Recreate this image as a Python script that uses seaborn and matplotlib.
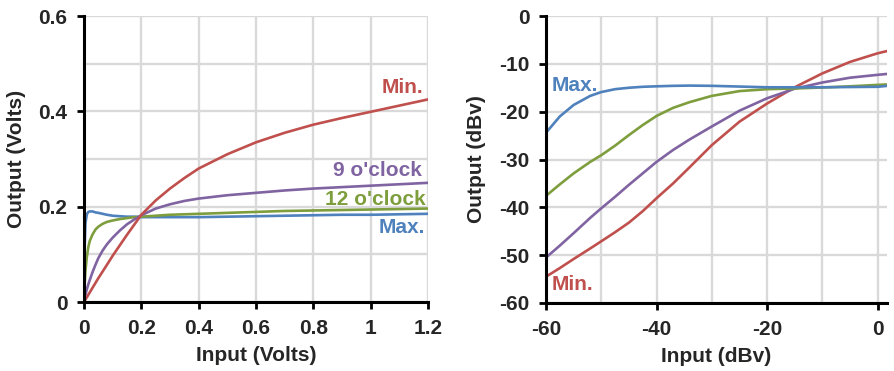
import numpy as np
import pandas as pd
import matplotlib
matplotlib.use("Agg")
import matplotlib.pyplot as plt
import seaborn as sns
from matplotlib.ticker import MultipleLocator

# ─── DATA ────────────────────────────────────────────────────────────────────
# left panel: linear volts
vin = [0, 0.0025, 0.005, 0.01, 0.015, 0.02, 0.03, 0.04, 0.05, 0.065, 0.08, 0.1,
       0.125, 0.15, 0.175, 0.2, 0.25, 0.3, 0.35, 0.4, 0.5, 0.6, 0.7, 0.8, 0.9,
       1.0, 1.1, 1.2]
v_min = [0, 0.0025, 0.005, 0.01, 0.015, 0.02, 0.03, 0.04, 0.05, 0.064, 0.078, 0.097,
         0.119, 0.141, 0.162, 0.183, 0.213, 0.238, 0.260, 0.280, 0.310, 0.335, 0.355,
         0.372, 0.386, 0.399, 0.412, 0.425]
v_9 = [0, 0.008, 0.015, 0.027, 0.037, 0.046, 0.063, 0.078, 0.092, 0.108, 0.121, 0.135,
       0.150, 0.163, 0.173, 0.182, 0.196, 0.205, 0.212, 0.217, 0.224, 0.229, 0.234,
       0.238, 0.241, 0.244, 0.247, 0.250]
v_12 = [0, 0.04, 0.065, 0.095, 0.115, 0.128, 0.142, 0.152, 0.158, 0.164, 0.168, 0.171,
        0.174, 0.176, 0.178, 0.179, 0.181, 0.183, 0.184, 0.185, 0.187, 0.189, 0.191,
        0.192, 0.193, 0.194, 0.195, 0.196]
v_max = [0, 0.12, 0.165, 0.184, 0.189, 0.190, 0.190, 0.188, 0.187, 0.185, 0.183, 0.181,
         0.180, 0.179, 0.179, 0.178, 0.178, 0.178, 0.178, 0.178, 0.179, 0.180, 0.181,
         0.182, 0.183, 0.183, 0.184, 0.185]

# right panel: dBv
din = [-60, -57.5, -55, -52, -50, -47.5, -45, -42.5, -40, -37, -34, -30, -25, -20,
       -15, -10, -5, 0, 1.8]
d_min = [-54.5, -52.7, -50.8, -48.6, -47.1, -45.2, -43.2, -40.8, -38.1, -35.0, -31.6,
         -27.0, -22.1, -18.3, -14.9, -12.0, -9.6, -7.8, -7.3]
d_9 = [-50.5, -48.0, -45.4, -42.2, -40.2, -37.8, -35.3, -32.9, -30.5, -28.0, -25.8,
       -23.1, -19.8, -17.2, -15.2, -13.9, -12.9, -12.3, -12.1]
d_12 = [-37.6, -35.2, -32.9, -30.5, -29.1, -27.1, -24.9, -22.8, -20.9, -19.2, -18.0,
        -16.7, -15.7, -15.3, -15.15, -14.95, -14.7, -14.4, -14.3]
d_max = [-24.4, -21.0, -18.6, -16.7, -15.9, -15.3, -15.0, -14.8, -14.7, -14.6, -14.55,
         -14.6, -14.75, -14.9, -14.9, -14.9, -14.85, -14.8, -14.6]

RED, PURPLE, GREEN, BLUE = "#C0504D", "#8064A2", "#7E9E3E", "#4F81BD"
GRID = "#D9D9D9"

sns.set_style("white")
plt.rcParams["font.family"] = ["Liberation Sans", "DejaVu Sans"]
plt.rcParams["font.weight"] = "bold"
plt.rcParams["axes.unicode_minus"] = False
FS = 15

fig = plt.figure(figsize=(8.95, 3.71), dpi=100)
ax1 = fig.add_axes([84 / 895, 69 / 371, 344 / 895, 286 / 371])
ax2 = fig.add_axes([546 / 895, 68 / 371, 341 / 895, 287 / 371])


def style(ax):
    ax.grid(True, which="both", color=GRID, lw=1.7, zorder=0)
    ax.set_axisbelow(True)
    for s in ["top", "right"]:
        ax.spines[s].set_visible(False)
    for s in ["left", "bottom"]:
        ax.spines[s].set_color("black")
        ax.spines[s].set_linewidth(2.2)
        ax.spines[s].set_zorder(5)
    ax.tick_params(which="major", direction="out", length=5, width=2, color="black",
                   labelsize=FS, left=True, bottom=True)
    ax.tick_params(axis="y", pad=7)
    ax.tick_params(axis="x", pad=7)
    ax.tick_params(which="minor", length=0)
    for lab in ax.get_xticklabels() + ax.get_yticklabels():
        lab.set_fontweight("bold")


# --- left panel --------------------------------------------------------------
for ys, c in [(v_max, BLUE), (v_12, GREEN), (v_9, PURPLE), (v_min, RED)]:
    sns.lineplot(x=vin, y=ys, color=c, lw=1.9, ax=ax1, sort=False, zorder=3)
ax1.set_xlim(0, 1.2)
ax1.set_ylim(0, 0.6)
ax1.yaxis.set_minor_locator(MultipleLocator(0.1))
ax1.set_xticks([0, 0.2, 0.4, 0.6, 0.8, 1.0, 1.2])
ax1.set_xticklabels(["0", "0.2", "0.4", "0.6", "0.8", "1", "1.2"])
ax1.set_yticks([0, 0.2, 0.4, 0.6])
ax1.set_yticklabels(["0", "0.2", "0.4", "0.6"])
ax1.set_xlabel("Input (Volts)", fontsize=FS, fontweight="bold", labelpad=6)
ax1.set_ylabel("Output (Volts)", fontsize=FS, fontweight="bold", labelpad=9)
style(ax1)
ax1.text(1.185, 0.45, "Min.", color=RED, fontsize=FS, fontweight="bold", ha="right", va="center")
ax1.text(1.18, 0.275, "9 o'clock", color=PURPLE, fontsize=FS, fontweight="bold", ha="right", va="center")
ax1.text(1.19, 0.216, "12 o'clock", color=GREEN, fontsize=FS, fontweight="bold", ha="right", va="center")
ax1.text(1.19, 0.156, "Max.", color=BLUE, fontsize=FS, fontweight="bold", ha="right", va="center")

# --- right panel -------------------------------------------------------------
for ys, c in [(d_min, RED), (d_9, PURPLE), (d_12, GREEN), (d_max, BLUE)]:
    sns.lineplot(x=din, y=ys, color=c, lw=1.9, ax=ax2, sort=False, zorder=3)
ax2.set_xlim(-60, 1.7)
ax2.set_ylim(-60, 0)
ax2.set_xticks([-60, -40, -20, 0])
ax2.xaxis.set_minor_locator(MultipleLocator(10))
ax2.yaxis.set_major_locator(MultipleLocator(10))
ax2.set_xlabel("Input (dBv)", fontsize=FS, fontweight="bold", labelpad=6)
ax2.set_ylabel("Output (dBv)", fontsize=FS, fontweight="bold", labelpad=9)
style(ax2)
ax2.text(-59, -14.6, "Max.", color=BLUE, fontsize=FS, fontweight="bold", ha="left", va="center")
ax2.text(-58.9, -56.2, "Min.", color=RED, fontsize=FS, fontweight="bold", ha="left", va="center")

plt.savefig("out.png", dpi=100)
